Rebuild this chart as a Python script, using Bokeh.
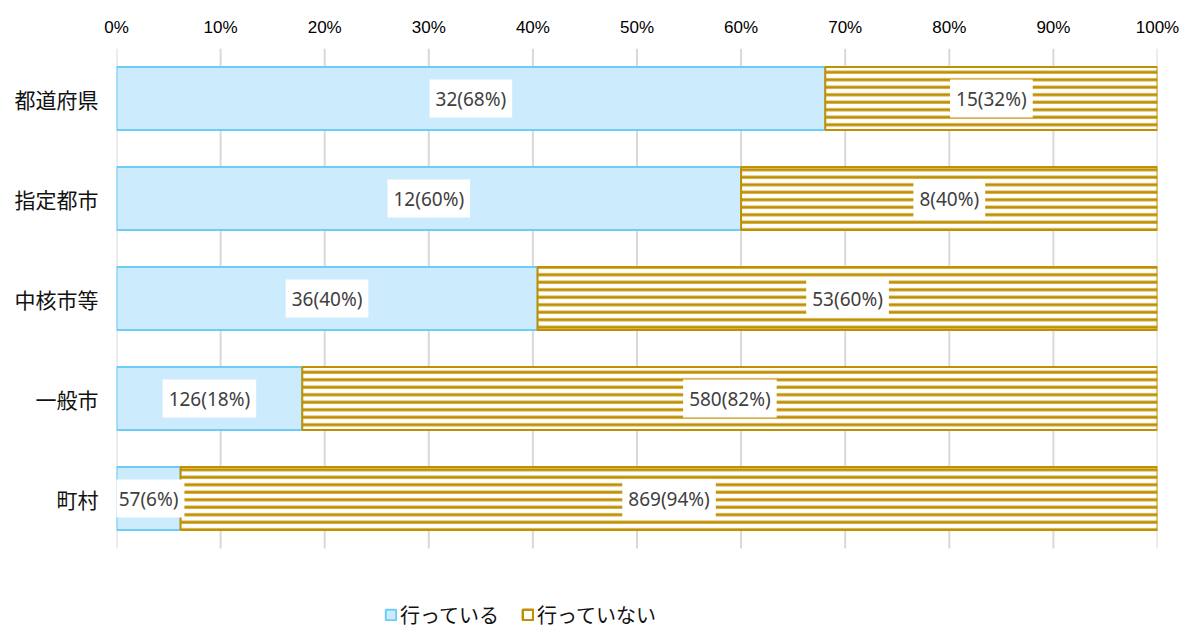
from bokeh.plotting import figure
from bokeh.models import (ColumnDataSource, Legend, LegendItem, FixedTicker,
                          NumeralTickFormatter, Range1d)
from bokeh.core.properties import value
from bokeh.embed import file_html
from bokeh.resources import INLINE

categories = ["都道府県", "指定都市", "中核市等", "一般市", "町村"]
doing = [32, 12, 36, 126, 57]
not_doing = [15, 8, 53, 580, 869]
series_names = ["行っている", "行っていない"]
x_ticks = [0, 0.1, 0.2, 0.3, 0.4, 0.5, 0.6, 0.7, 0.8, 0.9, 1.0]

BLUE_FILL = "#CCEBFD"
BLUE_LINE = "#6DCDF7"
GOLD = "#C09000"

n = len(categories)
ypos = [n - 1 - i for i in range(n)]
tot = [a + b for a, b in zip(doing, not_doing)]
frac_a = [a / t for a, t in zip(doing, tot)]
lab_a = [f"{a}({round(a / t * 100)}%)" for a, t in zip(doing, tot)]
lab_b = [f"{b}({round(b / t * 100)}%)" for b, t in zip(not_doing, tot)]

src = ColumnDataSource(dict(
    y=ypos, a_left=[0] * n, a_right=frac_a,
    b_left=frac_a, b_right=[1] * n,
    a_mid=[f / 2 for f in frac_a], b_mid=[(f + 1) / 2 for f in frac_a],
    lab_a=lab_a, lab_b=lab_b,
))

p = figure(width=1181, height=629, output_backend="svg", toolbar_location=None,
           y_range=Range1d(n - 0.5 - 5.81, n - 0.5),
           x_range=(0, 1), x_axis_location="above",
           min_border_left=116, min_border_right=24, min_border_top=48, min_border_bottom=0)
p.outline_line_color = None
p.background_fill_color = "white"
p.xgrid.visible = False
p.ygrid.visible = False

# vertical grid lines limited to the category area
p.segment(x0=x_ticks, x1=x_ticks, y0=[-0.5] * len(x_ticks), y1=[n - 0.5] * len(x_ticks),
          line_color="#D9D9D9", line_width=2)

p.hbar(y="y", left="a_left", right="a_right", height=0.63, source=src,
       fill_color=BLUE_FILL, line_color=BLUE_LINE, line_width=2)
p.hbar(y="y", left="b_left", right="b_right", height=0.63, source=src,
       fill_color="white", line_color=GOLD, line_width=2,
       hatch_pattern="horizontal_line", hatch_color=GOLD, hatch_scale=7.5, hatch_weight=3)

for col, xcol in (("lab_a", "a_mid"), ("lab_b", "b_mid")):
    p.text(x=xcol, y="y", text=col, source=src, text_align="center",
           text_baseline="middle", text_font=value("Noto Sans"), text_font_size="19px",
           text_color="#404040", background_fill_color="white", padding=6)

xa = p.xaxis[0]
xa.ticker = FixedTicker(ticks=x_ticks)
xa.formatter = NumeralTickFormatter(format="0%")
xa.axis_line_color = None
xa.major_tick_line_color = None
xa.minor_tick_line_color = None
xa.major_label_text_font = "Liberation Sans"
xa.major_label_text_font_size = "17px"
xa.major_label_text_color = "#000000"
xa.major_label_standoff = 6

ya = p.yaxis[0]
ya.ticker = FixedTicker(ticks=ypos)
ya.major_label_overrides = {y: c for y, c in zip(ypos, categories)}
ya.axis_line_color = None
ya.major_tick_line_color = None
ya.minor_tick_line_color = None
ya.major_label_text_font = "Noto Sans CJK JP"
ya.major_label_text_font_size = "21px"
ya.major_label_text_color = "#111111"
ya.major_label_standoff = 12

nan = float("nan")
r1 = p.quad(left=[nan], right=[nan], top=[nan], bottom=[nan], fill_color=BLUE_FILL,
            line_color=BLUE_LINE, line_width=2)
r2 = p.quad(left=[nan], right=[nan], top=[nan], bottom=[nan], fill_color="white",
            line_color=GOLD, line_width=2.5)
legend = Legend(items=[LegendItem(label=series_names[0], renderers=[r1], index=0),
                       LegendItem(label=series_names[1], renderers=[r2], index=0)],
                orientation="horizontal", location=(268, 0), padding=0, margin=0,
                spacing=22, label_standoff=3, glyph_width=13, glyph_height=13,
                label_text_font="Noto Sans CJK JP", label_text_font_size="20px",
                label_text_color="#111111", background_fill_alpha=0,
                border_line_color=None)
p.add_layout(legend, "center")

open("out.html", "w").write(file_html(p, INLINE))
